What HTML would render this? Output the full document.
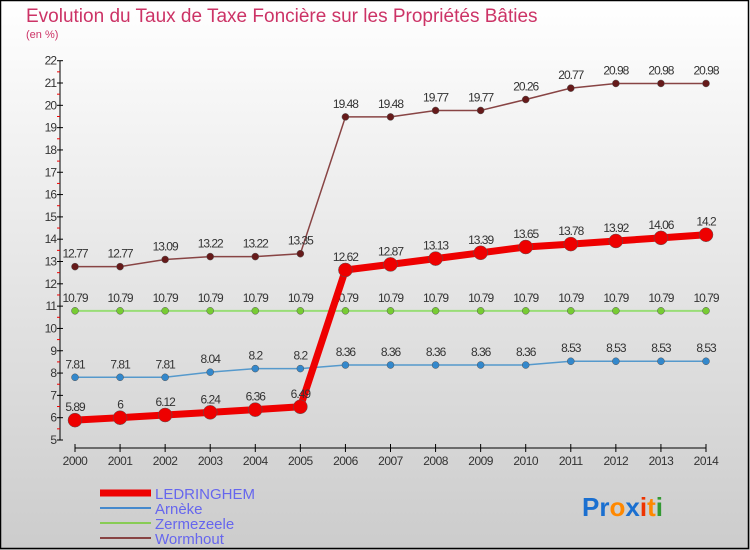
<!DOCTYPE html>
<html><head><meta charset="utf-8"><style>
body{margin:0;width:750px;height:550px;overflow:hidden;font-family:"Liberation Sans",sans-serif}
svg{display:block}
</style></head><body>
<svg id="c" width="750" height="550" xmlns="http://www.w3.org/2000/svg">
<defs><linearGradient id="bg" x1="0" y1="0" x2="0" y2="1"><stop offset="0" stop-color="#ffffff"/><stop offset="1" stop-color="#cccccc"/></linearGradient></defs>
<rect x="0" y="0" width="750" height="550" fill="url(#bg)"/>
<rect x="0.5" y="0.5" width="748" height="548" fill="none" stroke="#000" stroke-width="1.5"/>
<text x="26" y="22" font-size="19" fill="#cc3366">Evolution du Taux de Taxe Foncière sur les Propriétés Bâties</text>
<text x="26" y="38" font-size="11" fill="#cc3366">(en %)</text>
<g id="axes"></g><g id="series"></g>
<g>
<line x1="100" y1="493" x2="151" y2="493" stroke="#ee0000" stroke-width="7"/>
<text x="155" y="499" font-size="15" fill="#6666ee">LEDRINGHEM</text>
<line x1="100" y1="508" x2="151" y2="508" stroke="#4488cc" stroke-width="2"/>
<text x="155" y="514" font-size="15" fill="#6666ee">Arnèke</text>
<line x1="100" y1="523" x2="151" y2="523" stroke="#88cc55" stroke-width="2"/>
<text x="155" y="529" font-size="15" fill="#6666ee">Zermezeele</text>
<line x1="100" y1="538" x2="151" y2="538" stroke="#884444" stroke-width="2"/>
<text x="155" y="544" font-size="15" fill="#6666ee">Wormhout</text>
</g>
<g font-size="26" font-weight="bold">
<text x="582" y="516"><tspan fill="#1a6fd0">Pr</tspan><tspan fill="#ff8800">o</tspan><tspan fill="#1a6fd0">x</tspan><tspan fill="#ee3300">i</tspan><tspan fill="#ff8800">t</tspan><tspan fill="#339933">i</tspan></text>
</g>
</svg>
<script>
const years=[2000,2001,2002,2003,2004,2005,2006,2007,2008,2009,2010,2011,2012,2013,2014];
const ledringhem=[5.89,6,6.12,6.24,6.36,6.49,12.62,12.87,13.13,13.39,13.65,13.78,13.92,14.06,14.2];
const arneke=[7.81,7.81,7.81,8.04,8.2,8.2,8.36,8.36,8.36,8.36,8.36,8.53,8.53,8.53,8.53];
const zermezeele=[10.79,10.79,10.79,10.79,10.79,10.79,10.79,10.79,10.79,10.79,10.79,10.79,10.79,10.79,10.79];
const wormhout=[12.77,12.77,13.09,13.22,13.22,13.35,19.48,19.48,19.77,19.77,20.26,20.77,20.98,20.98,20.98];
const yTicks=[5,6,7,8,9,10,11,12,13,14,15,16,17,18,19,20,21,22];
const NS="http://www.w3.org/2000/svg";
const X=i=>75+i*(706-75)/(years.length-1);
const Y=v=>440-(v-5)*(440-60.7)/17;
function mk(t,a,p){const e=document.createElementNS(NS,t);for(const k in a)e.setAttribute(k,a[k]);p.appendChild(e);return e;}
const ax=document.getElementById('axes');
let yl=mk('line',{x1:60,y1:Y(22),x2:60,y2:Y(5),stroke:'#000','stroke-width':1},ax);


yTicks.forEach(v=>{
 mk('line',{x1:57,y1:Y(v),x2:63,y2:Y(v),stroke:'#000'},ax);
 if(v<22) mk('line',{x1:57,y1:Y(v+0.5),x2:60,y2:Y(v+0.5),stroke:'#ee0000'},ax);
 const t=mk('text',{x:56,y:Y(v)+4,'font-size':12,'text-anchor':'end',fill:'#333','letter-spacing':'-1'},ax);
 t.textContent=v;
 
 
});
let xl=mk('line',{x1:X(0),y1:448,x2:X(14),y2:448,stroke:'#000'},ax);


years.forEach((y,i)=>{
 mk('line',{x1:X(i),y1:444,x2:X(i),y2:452,stroke:'#000'},ax);
 const t=mk('text',{x:X(i),y:465,'font-size':12,'text-anchor':'middle',fill:'#333','letter-spacing':'-0.5'},ax);
 t.textContent=y;
 
 
});
const sg=document.getElementById('series');
function series(name,data,color,w,r,dot){
 const g=mk('g',{},sg);
 
 
 mk('polyline',{points:data.map((v,i)=>X(i)+','+Y(v)).join(' '),fill:'none',stroke:color,'stroke-width':w,'stroke-linejoin':'round'},g);
 data.forEach((v,i)=>{
  const c=mk('circle',{cx:X(i),cy:Y(v),r:r,fill:dot,stroke:'#555','stroke-width':0.5},g);
  
  
  const t=mk('text',{x:X(i),y:Y(v)-9,'font-size':12,'text-anchor':'middle',fill:'#333','letter-spacing':'-1'},g);
  t.textContent=v;
  
  
 });
}
series('wormhout',wormhout,'#884444',1.5,3.5,'#661a1a');
series('zermezeele',zermezeele,'#99dd77',2,3.5,'#77cc33');
series('arneke',arneke,'#5599cc',1.5,3.5,'#3388cc');
series('ledringhem',ledringhem,'#ee0000',7,7,'#ee0000');
</script>
</body></html>
